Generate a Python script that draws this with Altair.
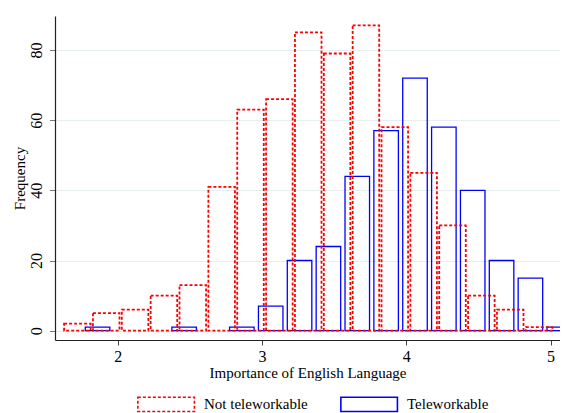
import altair as alt
import pandas as pd

# Histogram bars (bin centres and frequencies)
not_tele_centers = [1.72, 1.92, 2.12, 2.32, 2.52, 2.72, 2.92, 3.12, 3.32, 3.52,
                    3.72, 3.92, 4.12, 4.32, 4.52, 4.72, 4.92]
not_tele_counts = [2, 5, 6, 10, 13, 41, 63, 66, 85, 79, 87, 58, 45, 30, 10, 6, 1]

tele_centers = [1.86, 2.46, 2.86, 3.06, 3.26, 3.46, 3.66, 3.86, 4.06, 4.26,
                4.46, 4.66, 4.86, 5.06]
tele_counts = [1, 1, 1, 7, 20, 24, 44, 57, 72, 58, 40, 20, 15, 1]

groups = ["Not teleworkable", "Teleworkable"]
x_ticks = [2, 3, 4, 5]
y_ticks = [0, 20, 40, 60, 80]

df_red = pd.DataFrame({"center": not_tele_centers, "count": not_tele_counts,
                       "group": groups[0]})
df_blue = pd.DataFrame({"center": tele_centers, "count": tele_counts,
                        "group": groups[1]})

FONT = "Liberation Serif"

x_scale = alt.Scale(domain=[1.565, 5.065], nice=False, zero=False)
y_scale = alt.Scale(domain=[-2.65, 89.68], nice=False, zero=False)
color_scale = alt.Scale(domain=groups, range=["#ff0000", "#0000ff"])
dash_scale = alt.Scale(domain=groups, range=[[3, 2], [1, 0]])

legend = alt.Legend(
    title=None, orient="none", legendX=82, legendY=380, direction="horizontal",
    columns=2, symbolType="M-1,-1L6.92,-1L6.92,1L-1,1Z", symbolSize=204,
    symbolStrokeWidth=1.6, symbolFillColor="transparent",
    labelFont=FONT, labelFontSize=15, labelColor="black",
    labelOffset=51, columnPadding=29, padding=0,
)


def layer(df, half, sw):
    return alt.Chart(df).transform_calculate(
        x0=f"datum.center - {half}", x1=f"datum.center + {half}"
    ).mark_bar(filled=False, strokeWidth=sw, clip=True).encode(
        x=alt.X("x0:Q", scale=x_scale, axis=alt.Axis(
            values=x_ticks, title="Importance of English Language", grid=False,
            tickSize=5, labelPadding=3.5, titlePadding=1, labelFontSize=16,
            domainColor="#222222", tickColor="#444444")),
        x2="x1:Q",
        y=alt.Y("count:Q", scale=y_scale, axis=alt.Axis(
            values=y_ticks, title="Frequency", grid=True, gridColor="#e6eef0",
            gridWidth=1.2, tickSize=5.5, labelAngle=270, labelAlign="center",
            labelBaseline="alphabetic", labelPadding=8, titlePadding=1,
            labelFontSize=16,
            domainColor="#222222", tickColor="#777777")),
        y2=alt.datum(0),
        color=alt.Color("group:N", scale=color_scale, legend=legend),
        strokeDash=alt.StrokeDash("group:N", scale=dash_scale, legend=legend),
    )


chart = alt.layer(
    layer(df_blue, 0.085, 1.3),
    layer(df_red, 0.092, 1.8),
).properties(
    width=505, height=324,
    padding={"left": 4, "top": 8, "right": 0, "bottom": 0},
).configure_axis(
    labelFont=FONT, titleFont=FONT, titleFontSize=15,
    labelColor="black", titleColor="black", titleFontWeight="normal",
    domainWidth=1.2,
).configure_view(stroke=None)

chart.save("out.html", embed_options={"renderer": "svg", "actions": False})
